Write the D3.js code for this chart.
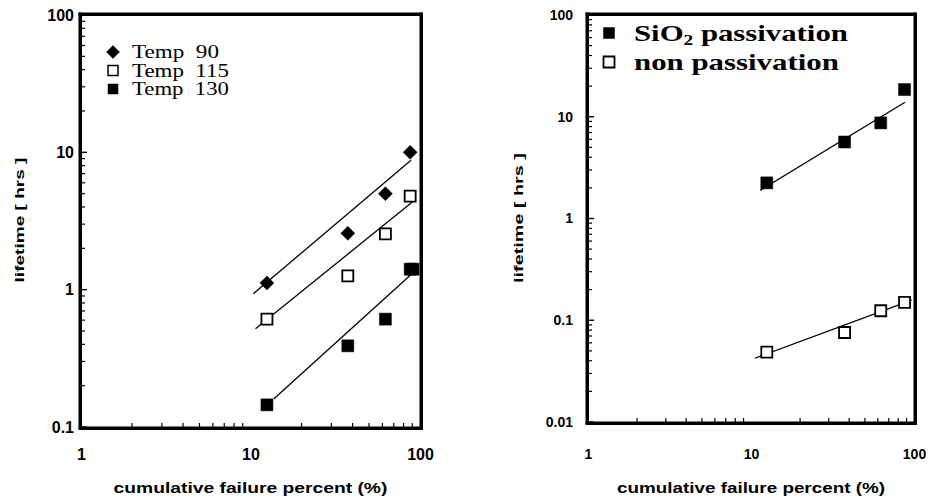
<!DOCTYPE html>
<html>
<head>
<meta charset="utf-8">
<script src="https://cdn.jsdelivr.net/npm/d3@7"></script>
<style>
  body { margin: 0; background: #fff; }
  #chart { position: relative; width: 934px; height: 498px; }
  #chart svg { position: absolute; left: 0; top: 0; }
  .frame-box { position: absolute; box-sizing: border-box; border: 3px solid #000; pointer-events: none; }
</style>
</head>
<body>
<div id="chart"></div>
<script>
// data
let failPct = [12.5, 37.5, 62.5, 87.5];
let failPct130 = [12.5, 37.5, 62.5, 87.5, 91];

let temp90 = [1.12, 2.57, 5.0, 10];
let temp115 = [0.61, 1.26, 2.55, 4.8];
let temp130 = [0.145, 0.39, 0.61, 1.41, 1.41];

let sio2Pass = [2.24, 5.65, 8.7, 18.5];
let nonPass = [0.0486, 0.0758, 0.124, 0.15];

// fitted lines: [start, end]
let fit90X = [10.4, 88.5], fit90Y = [0.935, 8.75];
let fit115X = [10.7, 90.5], fit115Y = [0.52, 4.36];
let fit130X = [13.7, 91], fit130Y = [0.16, 1.33];
let fitSio2X = [11.4, 88], fitSio2Y = [1.89, 13.9];
let fitNonX = [10.6, 96.8], fitNonY = [0.0424, 0.158];

let xTicks = [1, 10, 100];
let yTicksLeft = [0.1, 1, 10, 100];
let yTicksRight = [0.01, 0.1, 1, 10, 100];

let svgWidth = 934;
let svgHeight = 498;
let sansFont = "'Liberation Sans', Arial, sans-serif";
let serifFont = "'Liberation Serif', 'DejaVu Serif', serif";

let chart = d3.select("#chart");

let svg = chart.append("svg")
  .attr("width", svgWidth)
  .attr("height", svgHeight);

// frame and ticks go on their own layer above the marks
let frameSvg = chart.append("svg")
  .attr("width", svgWidth)
  .attr("height", svgHeight)
  .style("pointer-events", "none");

function minorTicks(lo, hi) {
  let out = [];
  for (let d = lo; d < hi * 0.99; d *= 10) {
    for (let k = 2; k <= 9; k++) out.push(d * k);
  }
  return out;
}

function markerPath(shape, size) {
  let h = size / 2;
  if (shape === "diamond") {
    return `M0,${-h}L${h},0L0,${h}L${-h},0Z`;
  }
  return `M${-h},${-h}H${h}V${h}H${-h}Z`;
}

// stretch a text horizontally to a wanted width (the scanned fonts are wide)
function stretchText(t, x, y, width, anchor, rotate) {
  let natural = t.node().getComputedTextLength();
  let sx = width / natural;
  t.attr("text-anchor", anchor)
    .attr("transform", `translate(${x},${y})` + (rotate ? " rotate(-90)" : "") + ` scale(${sx},1)`);
}

function addLine(layer, a, b, c, d, w) {
  layer.append("line")
    .attr("x1", a).attr("y1", b)
    .attr("x2", c).attr("y2", d)
    .attr("stroke", "#000").attr("stroke-width", w);
}

function drawPanel(p) {
  let x = d3.scaleLog().domain([1, 100]).range([p.left, p.right]);
  let y = d3.scaleLog().domain(p.yDomain).range([p.bottom, p.top]);
  let [x0, x1] = x.range();
  let [y0, y1] = y.range();

  // heavy frame: box border in the page, plus four lines on the svg layer
  chart.append("div")
    .attr("class", "frame-box")
    .style("left", (x0 - 2.5) + "px")
    .style("top", (y1 - 2.5) + "px")
    .style("width", (x1 - x0 + 5) + "px")
    .style("height", (y0 - y1 + 5) + "px");
  addLine(frameSvg, x0 - 2.5, y1 - 1, x1 + 2.5, y1 - 1, 3);
  addLine(frameSvg, x0 - 2.5, y0 + 1, x1 + 2.5, y0 + 1, 3);
  addLine(frameSvg, x0 - 1, y1 - 2.5, x0 - 1, y0 + 2.5, 3);
  addLine(frameSvg, x1 + 1, y1 - 2.5, x1 + 1, y0 + 2.5, 3);

  // tick marks pointing inside
  minorTicks(p.yDomain[0], p.yDomain[1]).forEach(v => addLine(frameSvg, x0, y(v), x0 + 4, y(v), 1.2));
  p.yTicks.forEach(v => addLine(frameSvg, x0, y(v), x0 + 6, y(v), 1.4));
  minorTicks(1, 100).forEach(v => addLine(frameSvg, x(v), y0, x(v), y0 - 4, 1.2));

  // labels
  let yAx = svg.append("g")
    .attr("transform", `translate(${x0},0)`)
    .call(d3.axisLeft(y).tickValues(p.yTicks).tickSize(0).tickPadding(p.yPad).tickFormat(d => String(d)));
  yAx.select(".domain").remove();

  let xAx = svg.append("g")
    .attr("transform", `translate(0,${y0})`)
    .call(d3.axisBottom(x).tickValues(xTicks).tickSize(0).tickPadding(p.xPad).tickFormat(d => String(d)));
  xAx.select(".domain").remove();

  [yAx, xAx].forEach(a => a.selectAll("text")
    .attr("fill", "#000")
    .attr("font-family", sansFont)
    .attr("font-weight", "bold")
    .attr("font-size", p.tickFont));

  // fit lines
  p.fits.forEach(f => addLine(svg, x(f.x[0]), y(f.y[0]), x(f.x[1]), y(f.y[1]), 1.3));

  // points
  p.series.forEach(s => {
    let pts = s.xs.map((v, k) => [v, s.ys[k]]);
    svg.selectAll(null)
      .data(pts)
      .enter()
      .append("path")
      .attr("transform", d => `translate(${x(d[0])},${y(d[1])})`)
      .attr("d", markerPath(s.shape, s.size))
      .attr("fill", s.filled ? "#000" : "#fff")
      .attr("stroke", "#000")
      .attr("stroke-width", s.filled ? 0.5 : 1.8);
  });

  // axis titles
  let xt = svg.append("text")
    .attr("font-family", sansFont)
    .attr("font-weight", "bold")
    .attr("font-size", 15)
    .text("cumulative  failure  percent (%)");
  stretchText(xt, (x0 + x1) / 2, 493, p.xTitleLen, "middle", false);

  let yt = svg.append("text")
    .attr("font-family", sansFont)
    .attr("font-weight", "bold")
    .attr("font-size", 13)
    .text("lifetime [ hrs ]");
  stretchText(yt, p.yTitleX, p.yTitleY, p.yTitleLen, "middle", true);
}

drawPanel({
  left: 81, right: 420, top: 15, bottom: 427,
  yDomain: [0.1, 100], yTicks: yTicksLeft,
  tickFont: 16, yPad: 7, xPad: 22,
  xTitleLen: 274,
  yTitleX: 24, yTitleY: 220, yTitleLen: 125,
  fits: [
    { x: fit90X, y: fit90Y },
    { x: fit115X, y: fit115Y },
    { x: fit130X, y: fit130Y }
  ],
  series: [
    { xs: failPct, ys: temp90, shape: "diamond", size: 14, filled: true },
    { xs: failPct, ys: temp115, shape: "square", size: 11, filled: false },
    { xs: failPct130, ys: temp130, shape: "square", size: 12, filled: true }
  ]
});

drawPanel({
  left: 588, right: 914, top: 15, bottom: 422,
  yDomain: [0.01, 100], yTicks: yTicksRight,
  tickFont: 14, yPad: 15, xPad: 27,
  xTitleLen: 268,
  yTitleX: 523, yTitleY: 218, yTitleLen: 130,
  fits: [
    { x: fitSio2X, y: fitSio2Y },
    { x: fitNonX, y: fitNonY }
  ],
  series: [
    { xs: failPct, ys: sio2Pass, shape: "square", size: 12, filled: true },
    { xs: failPct, ys: nonPass, shape: "square", size: 11, filled: false }
  ]
});

// legends
let legendLeft = [
  { label: "Temp\u00a0\u00a090", len: 87, shape: "diamond", size: 13, filled: true },
  { label: "Temp\u00a0\u00a0115", len: 97, shape: "square", size: 10, filled: false },
  { label: "Temp\u00a0\u00a0130", len: 97, shape: "square", size: 10, filled: true }
];
legendLeft.forEach((d, i) => {
  let cy = 52 + i * 18.5;
  svg.append("path")
    .attr("transform", `translate(113,${cy})`)
    .attr("d", markerPath(d.shape, d.size))
    .attr("fill", d.filled ? "#000" : "#fff")
    .attr("stroke", "#000")
    .attr("stroke-width", d.filled ? 0.5 : 1.5);
  let t = svg.append("text")
    .attr("font-family", serifFont)
    .attr("font-size", 18)
    .text(d.label);
  stretchText(t, 132, cy + 6, d.len, "start", false);
});

let legendRight = [
  { main: "SiO", sub: "2", rest: " passivation", len: 214, filled: true },
  { main: "non passivation", sub: "", rest: "", len: 205, filled: false }
];
legendRight.forEach((d, i) => {
  let cy = 33 + i * 29;
  svg.append("path")
    .attr("transform", `translate(609,${cy})`)
    .attr("d", markerPath("square", 11))
    .attr("fill", d.filled ? "#000" : "#fff")
    .attr("stroke", "#000")
    .attr("stroke-width", d.filled ? 0.5 : 1.8);
  let t = svg.append("text")
    .attr("font-family", serifFont)
    .attr("font-weight", "bold")
    .attr("font-size", 24);
  t.append("tspan").text(d.main);
  if (d.sub) {
    t.append("tspan").attr("dy", 4).attr("font-size", 15).text(d.sub);
    t.append("tspan").attr("dy", -4).text(d.rest);
  }
  stretchText(t, 634, cy + 8, d.len, "start", false);
});
</script>
</body>
</html>
